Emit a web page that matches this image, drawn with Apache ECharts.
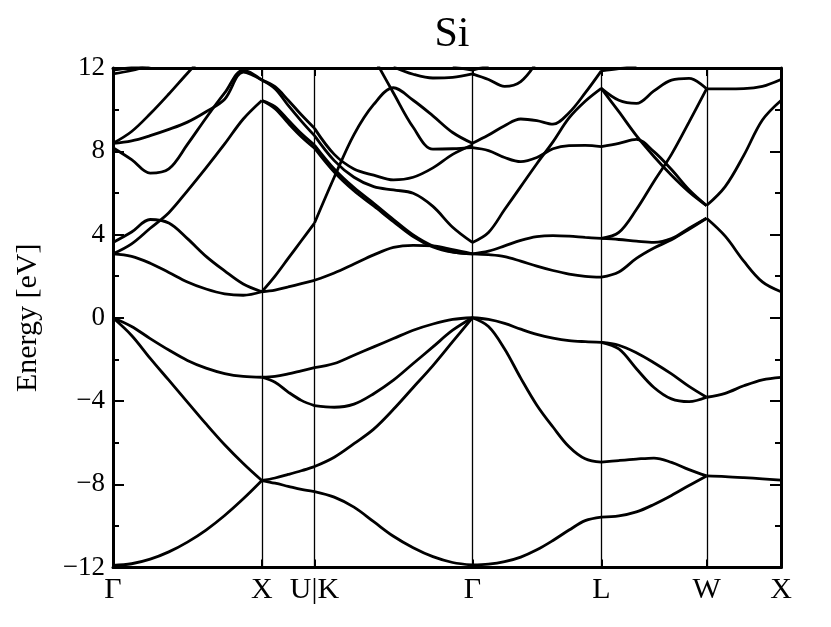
<!DOCTYPE html>
<html><head><meta charset="utf-8">
<script src="https://cdn.jsdelivr.net/npm/echarts@6/dist/echarts.min.js"></script>
<style>html,body{margin:0;padding:0;background:#fff}#c{width:831px;height:627px}</style>
</head><body><div id="c"></div>
<script>
// High-symmetry path (distances in units of 2π/a)
const kLabels = ['Γ', 'X', 'U|K', 'Γ', 'L', 'W', 'X'];
const kNodes = [0, 1, 1.3536, 2.4142, 3.2802, 3.9873, 4.4873];
const yTicks = [-12, -8, -4, 0, 4, 8, 12];

// Energies (eV) sampled evenly along each path segment; null = outside window
const bandsGX = [
  [-11.9, -11.82, -11.6, -11.25, -10.78, -10.2, -9.5, -8.7, -7.82],
  [0, -0.85, -1.95, -3.0, -4.05, -5.1, -6.1, -7.0, -7.82],
  [0, -0.42, -1.0, -1.55, -2.05, -2.42, -2.68, -2.82, -2.86],
  [3.07, 2.95, 2.62, 2.18, 1.72, 1.38, 1.15, 1.08, 1.25],
  [3.62, 4.12, 4.72, 4.55, 3.8, 2.95, 2.25, 1.62, 1.25],
  [3.07, 3.55, 4.3, 5.05, 6.1, 7.2, 8.35, 9.55, 10.44],
  [8.17, 7.6, 6.95, 7.15, 8.33, 9.6, 10.8, 11.9, 11.42],
  [8.38, 8.5, 8.75, 9.05, 9.4, 9.9, 10.5, 11.8, 11.42],
  [8.38, 8.95, 9.8, 10.75, 11.75, 12.7, null, null, null],
  [11.72, 11.88, 12.15, null, null, null, null, null, null],
  [11.9, 12.03, 12.2, null, null, null, null, null, null]
];
const bandsXU = [
  [-2.86, -2.82, -2.7, -2.55, -2.4],
  [-2.86, -3.1, -3.57, -3.97, -4.22],
  [-7.82, -7.7, -7.53, -7.35, -7.15],
  [-7.82, -7.95, -8.1, -8.25, -8.35],
  [1.25, 1.33, 1.48, 1.64, 1.8],
  [1.25, 2.0, 2.85, 3.7, 4.55],
  [11.42, 11.1, 10.45, 9.75, 9.1],
  [11.42, 11.0, 10.2, 9.45, 8.75],
  [10.44, 10.15, 9.5, 8.85, 8.3],
  [10.44, 10.05, 9.35, 8.7, 8.15]
];
const bandsKG = [
  [-2.4, -2.2, -1.8, -1.4, -1.0, -0.6, -0.3, -0.08, 0],
  [-4.22, -4.3, -4.15, -3.65, -3.0, -2.2, -1.4, -0.6, 0],
  [-7.15, -6.7, -6.05, -5.35, -4.4, -3.35, -2.3, -1.15, 0],
  [-8.35, -8.62, -9.1, -9.8, -10.5, -11.05, -11.48, -11.76, -11.88],
  [1.8, 2.15, 2.58, 3.02, 3.38, 3.48, 3.45, 3.27, 3.07],
  [8.15, 7.0, 6.1, 5.37, 4.62, 3.9, 3.4, 3.15, 3.07],
  [8.3, 7.15, 6.25, 5.5, 4.72, 3.98, 3.45, 3.17, 3.07],
  [8.75, 7.55, 6.75, 6.3, 6.14, 5.98, 5.35, 4.35, 3.62],
  [9.1, 7.85, 7.15, 6.85, 6.62, 6.75, 7.2, 7.85, 8.3],
  [4.55, 6.75, 8.8, 10.25, 11.05, 10.45, 9.7, 8.9, 8.38],
  [null, null, null, 12.5, 10.8, 9.15, 8.1, 8.12, 8.17],
  [null, null, null, null, 12.05, 11.7, 11.52, 11.55, 11.72],
  [null, null, null, null, null, null, null, 12.05, 11.9]
];
const bandsGL = [
  [0, -0.08, -0.27, -0.55, -0.8, -0.98, -1.1, -1.15, -1.18],
  [0, -0.42, -1.5, -2.9, -4.2, -5.25, -6.2, -6.78, -6.94],
  [-11.88, -11.84, -11.72, -11.5, -11.15, -10.7, -10.2, -9.75, -9.58],
  [3.07, 3.03, 2.94, 2.72, 2.48, 2.27, 2.1, 1.99, 1.95],
  [3.07, 3.2, 3.45, 3.72, 3.9, 3.95, 3.92, 3.86, 3.81],
  [3.62, 4.1, 5.2, 6.3, 7.4, 8.45, 9.6, 10.4, 11.02],
  [8.17, 8.03, 7.7, 7.5, 7.7, 8.12, 8.27, 8.28, 8.22],
  [8.38, 8.78, 9.23, 9.55, 9.47, 9.3, 9.85, 10.8, 11.86],
  [11.72, 11.45, 11.12, 11.35, 12.3, null, null, null, null],
  [11.9, 12.1, null, null, null, null, null, null, null]
];
const bandsLW = [
  [-1.18, -1.32, -1.68, -2.16, -2.7, -3.3, -3.82],
  [-1.18, -1.5, -2.45, -3.35, -3.9, -4.03, -3.82],
  [-6.94, -6.86, -6.79, -6.74, -6.95, -7.3, -7.6],
  [-9.58, -9.52, -9.33, -8.97, -8.54, -8.06, -7.6],
  [1.95, 2.2, 2.85, 3.35, 3.75, 4.25, 4.78],
  [3.81, 3.76, 3.68, 3.62, 3.8, 4.3, 4.78],
  [3.81, 4.1, 5.2, 6.55, 7.85, 9.4, 11.0],
  [8.22, 8.38, 8.57, 7.98, 7.12, 6.15, 5.39],
  [11.02, 9.9, 8.75, 7.75, 6.85, 6.05, 5.39],
  [11.02, 10.45, 10.3, 10.9, 11.42, 11.5, 11.0],
  [11.86, 11.97, 12.1, null, null, null, null]
];
const bandsWX = [
  [-3.82, -3.63, -3.27, -2.98, -2.86],
  [-7.6, -7.63, -7.68, -7.74, -7.8],
  [4.78, 3.92, 2.72, 1.72, 1.25],
  [5.39, 6.3, 7.8, 9.5, 10.44],
  [11.0, 11.0, 11.01, 11.12, 11.45]
];
const segments = [bandsGX, bandsXU, bandsKG, bandsGL, bandsLW, bandsWX];

const FONT = "'Liberation Serif', 'DejaVu Serif', serif";
const series = [];
segments.forEach((seg, s) => {
  const k0 = kNodes[s], k1 = kNodes[s + 1];
  seg.forEach(curve => {
    const n = curve.length;
    const data = [];
    curve.forEach((e, i) => { if (e !== null) data.push([k0 + (k1 - k0) * i / (n - 1), e]); });
    series.push({
      type: 'line', data: data, smooth: 0.35, symbol: 'none', clip: true,
      silent: true, animation: false, xAxisIndex: 0, yAxisIndex: 0,
      lineStyle: { color: '#000', width: 2.8 }
    });
  });
});
series[0].markLine = {
  silent: true, symbol: ['none', 'none'], animation: false,
  label: { show: false },
  lineStyle: { color: '#000', width: 1.3, type: 'solid' },
  data: kNodes.slice(1, -1).map(k => ({ xAxis: k }))
};

function kName(v) {
  let best = 0;
  kNodes.forEach((k, i) => { if (Math.abs(k - v) < Math.abs(kNodes[best] - v)) best = i; });
  return kLabels[best];
}
const fmtE = v => (yTicks.indexOf(v) < 0 ? '' : (v < 0 ? '\u2212' + Math.abs(v) : String(v)));

function yAx(pos, interval, len, withLine, withLabel) {
  const o = {
    type: 'value', min: yTicks[0], max: yTicks[yTicks.length - 1], interval: interval, position: pos,
    axisLine: { show: withLine, onZero: false, lineStyle: { color: '#000', width: 3 } },
    axisTick: { show: true, inside: true, length: len, lineStyle: { color: '#000', width: 2 } },
    axisLabel: withLabel ? { formatter: fmtE, margin: 8, fontFamily: FONT, fontSize: 27, color: '#000' } : { show: false },
    splitLine: { show: false }
  };
  if (withLabel) {
    o.name = 'Energy [eV]'; o.nameLocation = 'middle'; o.nameGap = 70;
    o.nameTextStyle = { fontFamily: FONT, fontSize: 30, color: '#000' };
  }
  return o;
}
function xAx(pos, withLabel) {
  return {
    type: 'value', min: 0, max: kNodes[kNodes.length - 1], position: pos,
    axisLine: { show: true, onZero: false, lineStyle: { color: '#000', width: 3 } },
    axisTick: { show: true, inside: true, length: 8, lineStyle: { color: '#000', width: 2 }, customValues: kNodes },
    axisLabel: withLabel ? { show: true, customValues: kNodes, formatter: kName, margin: 8,
      fontFamily: FONT, fontSize: 30, color: '#000', showMinLabel: true, showMaxLabel: true } : { show: false },
    splitLine: { show: false }
  };
}

const chart = echarts.init(document.getElementById('c'), null, { renderer: 'canvas' });
chart.setOption({
  animation: false,
  backgroundColor: '#fff',
  title: {
    text: 'Si', left: 447, top: 9, textAlign: 'center',
    textStyle: { fontFamily: FONT, fontSize: 42, fontWeight: 'normal', color: '#000' }
  },
  grid: { left: 113, right: 50, top: 68, bottom: 59.5, containLabel: false },
  xAxis: [xAx('bottom', true), xAx('top', false)],
  yAxis: [
    yAx('left', 2, 6, true, true),
    yAx('left', 4, 11, false, false),
    yAx('right', 2, 6, true, false),
    yAx('right', 4, 11, false, false)
  ],
  series: series
});
</script>
</body></html>
